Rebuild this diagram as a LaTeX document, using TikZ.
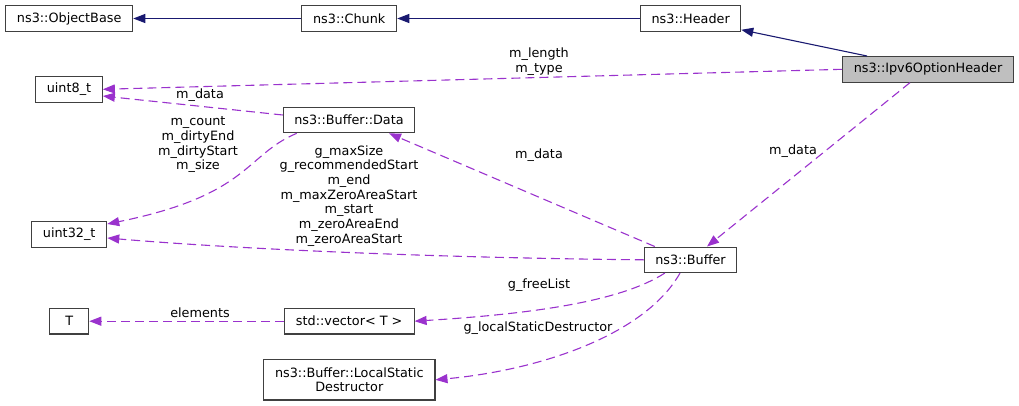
\documentclass[tikz,border=0pt]{standalone}
\usepackage{fontspec}
\setmainfont{DejaVu Sans}
\usepackage{tikz}
\usetikzlibrary{arrows.meta}
\definecolor{navy}{RGB}{25,25,112}
\definecolor{orchid}{RGB}{154,50,205}
\definecolor{boxgray}{RGB}{191,191,191}

\begin{document}
\begin{tikzpicture} [x=1pt, y=-1pt, font=\fontsize{12.8}{14.7}\selectfont,
  cls/.style={draw=black!75, line width=1.1pt, minimum height=25.5pt, inner sep=0pt, align=center},
  inh/.style={draw=navy, line width=1.1pt, -{Triangle[length=12pt,width=9pt]}},
  use/.style={draw=orchid, line width=1.1pt, dash pattern=on 9pt off 5pt, -{Triangle[length=12pt,width=9pt]}},
  lbl/.style={align=center, inner sep=0pt}]
\useasboundingbox (0,0) rectangle (1019,405);
\node[cls, minimum width=127pt] (objbase) at (69.2,18.5) {ns3::ObjectBase};
\node[cls, minimum width=95pt] (chunk) at (349.2,18.5) {ns3::Chunk};
\node[cls, minimum width=100pt] (header) at (690.7,18.5) {ns3::Header};
\node[cls, minimum width=170.6pt, fill=boxgray] (ipv6) at (928,69.3) {ns3::Ipv6OptionHeader};
\node[cls, minimum width=66.6pt] (uint8) at (69,89.3) {uint8\_t};
\node[cls, minimum width=131.4pt] (data) at (349,120) {ns3::Buffer::Data};
\node[cls, minimum width=75pt] (uint32) at (69.2,234.3) {uint32\_t};
\node[cls, minimum width=92.4pt] (buffer) at (690.5,259.8) {ns3::Buffer};
\node[cls, minimum width=39pt] (tparam) at (69.2,321.2) {T};
\node[cls, minimum width=129.7pt] (vector) at (349.2,321.2) {std::vector< T >};
\node[cls, minimum width=171.3pt, minimum height=40.3pt] (lsd) at (349.3,379.8) {ns3::Buffer::LocalStatic\\Destructor};

\draw[inh] (chunk) -- (objbase);
\draw[inh] (header) -- (chunk);
\draw[inh] ([xshift=-61pt]ipv6.north) -- ([yshift=2pt]header.south east);

\draw[use] (ipv6.west) -- (uint8.east);
\node[lbl] (lenlbl) at (539,61.5) {m\_length\\m\_type};
\draw[use] ([yshift=5pt]data.west) -- ([yshift=-6.7pt]uint8.east);
\node[lbl] (datalbl) at (200,95) {m\_data};
\draw[use] ([xshift=14pt]data.south west) .. controls (245,155) and (250,195) .. ([yshift=-3pt]uint32.north east);
\node[lbl] (cntlbl) at (198,144.7) {m\_count\\m\_dirtyEnd\\m\_dirtyStart\\m\_size};
\draw[use] (buffer.west) .. controls (450,258) and (250,250) .. ([yshift=-3.7pt]uint32.east);
\node[lbl] (sizelbl) at (349,195.8) {g\_maxSize\\g\_recommendedStart\\m\_end\\m\_maxZeroAreaStart\\m\_start\\m\_zeroAreaEnd\\m\_zeroAreaStart};
\draw[use] ([xshift=11pt]buffer.north west) -- ([xshift=40pt]data.south);
\node[lbl] (bdatalbl) at (539,155) {m\_data};
\draw[use] ([xshift=-18pt]ipv6.south) -- ([xshift=16.5pt]buffer.north);
\node[lbl] (hdatalbl) at (793,150.7) {m\_data};
\draw[use] ([xshift=21pt]buffer.south west) .. controls (620,302) and (530,314) .. (vector.east);
\node[lbl] (freelbl) at (539,285) {g\_freeList};
\draw[use] (vector.west) -- (tparam.east);
\node[lbl] (elemlbl) at (200,312.7) {elements};
\draw[use] ([xshift=-10.5pt]buffer.south) .. controls (645,335) and (540,370) .. (lsd.east);
\node[lbl] (lsdlbl) at (538,328.3) {g\_localStaticDestructor};
\end{tikzpicture}
\end{document}
